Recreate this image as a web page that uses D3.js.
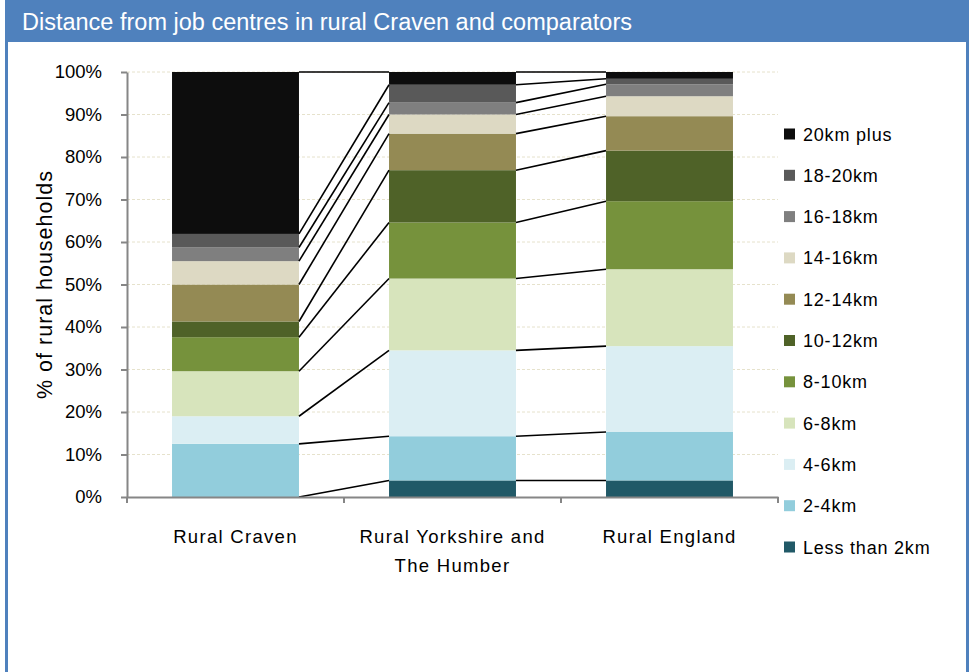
<!DOCTYPE html>
<html>
<head>
<meta charset="utf-8">
<script src="https://cdn.jsdelivr.net/npm/d3@7"></script>
<style>
  html, body { margin: 0; padding: 0; background: #ffffff; }
  svg { display: block; }
</style>
</head>
<body>
<svg id="chart" width="969" height="672"></svg>
<script>
const title = "Distance from job centres in rural Craven and comparators";
const yAxisTitle = "% of rural households";
const categories = ["Rural Craven", "Rural Yorkshire and The Humber", "Rural England"];
const categoryLines = [["Rural Craven"], ["Rural Yorkshire and", "The Humber"], ["Rural England"]];
// series listed bottom to top
const seriesNames = ["Less than 2km", "2-4km", "4-6km", "6-8km", "8-10km", "10-12km", "12-14km", "14-16km", "16-18km", "18-20km", "20km plus"];
const seriesColors = ["#215967", "#92cddc", "#dbeef3", "#d7e4bc", "#76923c", "#4f6228", "#948a54", "#ddd9c3", "#7f7f7f", "#595959", "#0d0d0d"];
// values (%) per series for [Craven, Yorkshire & Humber, England]
const lessThan2 = [0.0, 3.9, 3.9];
const km2to4   = [12.5, 10.4, 11.4];
const km4to6   = [6.5, 20.2, 20.2];
const km6to8   = [10.6, 16.9, 18.1];
const km8to10  = [8.0, 13.2, 16.0];
const km10to12 = [3.7, 12.3, 11.9];
const km12to14 = [8.7, 8.6, 8.1];
const km14to16 = [5.5, 4.5, 4.7];
const km16to18 = [3.2, 2.8, 2.8];
const km18to20 = [3.2, 4.2, 1.3];
const km20plus = [38.1, 3.0, 1.6];
const yTicks = [0, 10, 20, 30, 40, 50, 60, 70, 80, 90, 100];
const yTickLabels = yTicks.map(t => t + "%");

const seriesValues = [lessThan2, km2to4, km4to6, km6to8, km8to10, km10to12, km12to14, km14to16, km16to18, km18to20, km20plus];

const svg = d3.select("#chart");
const W = 969, H = 672;
const blue = "#4f81bd";

// frame
svg.append("rect").attr("x", 5).attr("y", 0).attr("width", W - 5).attr("height", H).attr("fill", blue);
svg.append("rect").attr("x", 8).attr("y", 42).attr("width", W - 8 - 3).attr("height", H - 42).attr("fill", "#ffffff");
svg.append("text").attr("x", 22).attr("y", 30)
  .attr("font-family", "Liberation Sans, Arial, sans-serif").attr("font-size", 23.5)
  .attr("fill", "#ffffff").text(title);

const plotLeft = 127, plotRight = 778, plotTop = 72, plotBottom = 497;
const y = d3.scaleLinear().domain([0, 100]).range([plotBottom, plotTop]);
const x = d3.scaleBand().domain(categories).range([plotLeft, plotRight])
  .paddingInner(0.415).paddingOuter(0.2075);

// stack
const rows = categories.map((c, i) => {
  const r = { cat: c };
  seriesNames.forEach((s, k) => r[s] = seriesValues[k][i]);
  return r;
});
const stacked = d3.stack().keys(seriesNames)(rows);

// gridlines
svg.append("g").selectAll("line").data(yTicks.filter(t => t > 0)).join("line")
  .attr("x1", plotLeft).attr("x2", plotRight)
  .attr("y1", d => y(d)).attr("y2", d => y(d))
  .attr("stroke", "#e6e2cc").attr("stroke-width", 1).attr("stroke-dasharray", "3,2");

// bars
const gBars = svg.append("g");
stacked.forEach((layer, k) => {
  gBars.append("g").attr("fill", seriesColors[k])
    .selectAll("rect").data(layer).join("rect")
    .attr("x", d => x(d.data.cat))
    .attr("width", x.bandwidth())
    .attr("y", d => y(d[1]))
    .attr("height", d => Math.max(0, y(d[0]) - y(d[1])));
});

// series lines
const gLines = svg.append("g").attr("stroke", "#000").attr("stroke-width", 1.6).attr("fill", "none");
for (let i = 0; i < categories.length - 1; i++) {
  stacked.forEach((layer) => {
    gLines.append("line")
      .attr("x1", x(categories[i]) + x.bandwidth())
      .attr("y1", y(layer[i][1]))
      .attr("x2", x(categories[i + 1]))
      .attr("y2", y(layer[i + 1][1]));
  });
}

// y axis
const yAxis = d3.axisLeft(y).tickValues(yTicks).tickFormat((d, i) => yTickLabels[i]).tickSize(6).tickSizeOuter(0);
const gy = svg.append("g").attr("transform", `translate(${plotLeft},0)`).call(yAxis);
gy.select(".domain").attr("stroke", "#868686").attr("stroke-width", 2);
gy.selectAll(".tick line").attr("stroke", "#868686").attr("stroke-width", 2);
gy.selectAll(".tick text").attr("x", -25).attr("font-family", "Liberation Sans, Arial, sans-serif")
  .attr("font-size", 18.5).attr("fill", "#000");

// x axis
const xAxis = d3.axisBottom(x).tickSize(0).tickFormat("");
const gx = svg.append("g").attr("transform", `translate(0,${plotBottom})`).call(xAxis);
gx.select(".domain").attr("stroke", "#868686").attr("stroke-width", 2);
const boundaries = categories.map(c => x(c) - x.step() * x.paddingInner() / 2);
boundaries.push(plotRight);
boundaries[0] = plotLeft;
gx.append("g").selectAll("line").data(boundaries).join("line")
  .attr("x1", d => d).attr("x2", d => d).attr("y1", 0).attr("y2", 6)
  .attr("stroke", "#868686").attr("stroke-width", 2);

// x labels
categories.forEach((c, i) => {
  const t = svg.append("text").attr("text-anchor", "middle")
    .attr("font-family", "Liberation Sans, Arial, sans-serif").attr("font-size", 18.5)
    .attr("letter-spacing", 1.3).attr("fill", "#000");
  categoryLines[i].forEach((ln, j) => {
    t.append("tspan").attr("x", x(c) + x.bandwidth() / 2).attr("y", 543 + j * 29).text(ln);
  });
});

// y axis title
svg.append("text").attr("transform", `translate(52,${(plotTop + plotBottom) / 2}) rotate(-90)`)
  .attr("text-anchor", "middle").attr("font-family", "Liberation Sans, Arial, sans-serif")
  .attr("font-size", 21.5).attr("letter-spacing", 1).attr("fill", "#000").text(yAxisTitle);

// legend (top to bottom: reverse order)
const legendOrder = seriesNames.map((s, k) => k).reverse();
const lg = svg.append("g");
legendOrder.forEach((k, r) => {
  const cy = 134 + r * 41.3;
  lg.append("rect").attr("x", 784).attr("y", cy - 5.5).attr("width", 11).attr("height", 11).attr("fill", seriesColors[k]);
  lg.append("text").attr("x", 803).attr("y", cy + 6.5)
    .attr("font-family", "Liberation Sans, Arial, sans-serif").attr("font-size", 18)
    .attr("letter-spacing", 0.8).attr("fill", "#000").text(seriesNames[k]);
});
</script>
</body>
</html>
